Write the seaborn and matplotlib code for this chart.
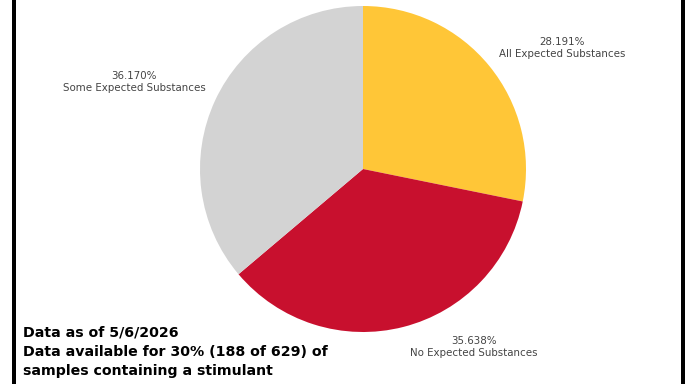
import matplotlib
matplotlib.use("Agg")
import matplotlib.pyplot as plt
import seaborn as sns

# Share of tested samples by how well the contents matched expectations
categories = ["All Expected Substances", "No Expected Substances", "Some Expected Substances"]
shares = [28.191, 35.638, 36.170]
colors = ["#FFC637", "#C8102E", "#D3D3D3"]

# Label anchor points (canvas pixels, y measured from the bottom)
label_pos = [(562, 336), (474, 37), (134, 302)]

notes = [
    "Data as of 5/6/2026",
    "Data available for 30% (188 of 629) of",
    "samples containing a stimulant",
]

sns.set_theme(style="white")
plt.rcParams["font.family"] = ["DejaVu Sans"]

W, H = 688, 384
fig = plt.figure(figsize=(W / 100, H / 100), dpi=100)
fig.patch.set_facecolor("white")
ax = fig.add_axes([0, 0, 1, 1])

ax.pie(
    shares,
    colors=colors,
    startangle=90,
    counterclock=False,
    center=(363, 215),
    radius=163,
    wedgeprops=dict(linewidth=0),
)
ax.set_xlim(0, W)
ax.set_ylim(0, H)
ax.set_aspect("equal")
ax.axis("off")

for cat, val, (x, y) in zip(categories, shares, label_pos):
    ax.text(x, y, f"{val:.3f}%\n{cat}", ha="center", va="center",
            fontsize=7.4, color="#444444", linespacing=1.35)

baselines = [H - 337, H - 356, H - 375]
for line, yb in zip(notes, baselines):
    ax.text(23, yb, line, ha="left", va="baseline", fontsize=10.2,
            fontweight="bold", color="black")

# Vertical black rules on both sides of the panel
ax.axvspan(12, 16, color="black", lw=0)
ax.axvspan(681, 685, color="black", lw=0)

fig.savefig("out.png", dpi=100, facecolor="white")
